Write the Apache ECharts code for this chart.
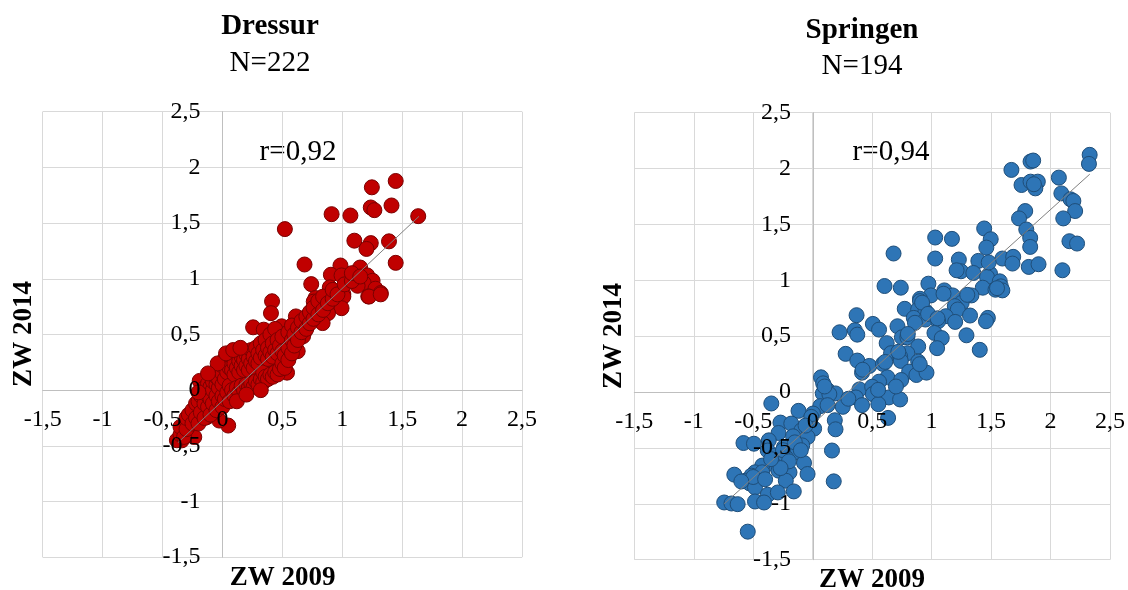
<!DOCTYPE html>
<html>
<head>
<meta charset="utf-8">
<script src="https://cdn.jsdelivr.net/npm/echarts@6/dist/echarts.min.js"></script>
<style>
html,body{margin:0;padding:0;background:#fff;}
#chart{width:1128px;height:590px;}
</style>
</head>
<body>
<div id="chart"></div>
<script>
// ---- Data ----
const titles = ['Dressur', 'Springen'];
const counts = ['N=222', 'N=194'];
const correlations = ['r=0,92', 'r=0,94'];
const xAxisName = 'ZW 2009';
const yAxisName = 'ZW 2014';
const axisMin = -1.5, axisMax = 2.5, axisStep = 0.5;

const dressurPoints = [
  // clearly visible points
  [1.446,1.878],[1.247,1.821],[1.411,1.658],[1.238,1.64],[1.268,1.616],[1.634,1.562],[0.911,1.58],[1.068,1.568],
  [0.521,1.446],[1.101,1.342],[1.238,1.32],[1.39,1.336],[1.202,1.268],[1.446,1.143],[0.685,1.128],[0.985,1.119],
  [1.149,1.101],[0.905,1.036],[0.994,1.03],[1.208,1.03],[1.253,0.982],[1.179,0.961],[0.741,0.952],[0.896,0.923],
  [1.128,0.937],[1.277,0.911],[1.321,0.872],[1.217,0.842],[1.009,0.863],[0.777,0.827],[0.866,0.821],[0.414,0.798],
  [1.223,0.84],[1.321,0.86],[1.009,0.84],[0.405,0.691],[0.762,0.795],[0.836,0.751],[0.896,0.766],[0.994,0.736],
  [0.881,0.691],[0.613,0.662],[0.836,0.602],[0.732,0.617],[0.256,0.564],[0.345,0.543],[0.494,0.573],[0.688,0.528],
  [0.673,0.484],[0.42,0.484],[0.554,0.424],[0.628,0.35],[0.539,0.157],[0.286,0.38],[0.435,0.365],[0.048,0.32],
  [0.196,0.335],[0.122,0.276],[0.018,0.172],[0.375,0.261],[0.494,0.246],[0.405,0.202],[0.226,0.202],[0.286,0.142],
  [0.196,0.098],[0.256,0.039],[0.107,0.083],[-0.071,0.083],[-0.146,0.024],[-0.19,0.083],[-0.012,-0.065],[-0.071,-0.125],
  [-0.19,-0.184],[0.048,-0.318],[-0.027,-0.273],[-0.131,-0.243],[-0.28,-0.332],[-0.235,-0.421],[-0.339,-0.451],
  // dense cluster around the origin
  [-0.38,-0.45],[-0.35,-0.40],[-0.35,-0.33],[-0.32,-0.42],[-0.30,-0.35],[-0.30,-0.25],[-0.28,-0.22],[-0.25,-0.30],
  [-0.25,-0.18],[-0.22,-0.25],[-0.22,-0.12],[-0.20,-0.30],[-0.20,-0.10],[-0.18,-0.20],[-0.18,-0.05],[-0.15,-0.25],
  [-0.15,-0.12],[-0.15,0.02],[-0.12,-0.15],[-0.12,-0.05],[-0.12,0.06],[-0.10,-0.22],[-0.10,-0.08],[-0.10,0.03],
  [-0.08,-0.12],[-0.08,0.00],[-0.08,0.08],[-0.05,-0.18],[-0.05,-0.05],[-0.05,0.05],[-0.05,0.12],[-0.03,-0.10],
  [-0.03,0.02],[-0.03,0.10],[0.00,-0.15],[0.00,-0.05],[0.00,0.05],[0.00,0.15],[0.00,0.22],
  [0.02,-0.08],[0.02,0.10],[0.02,0.28],[0.04,-0.02],[0.04,0.16],[0.04,0.25],[0.06,-0.10],[0.06,0.04],[0.06,0.20],
  [0.08,0.00],[0.08,0.18],[0.08,0.30],[0.10,-0.05],[0.10,0.14],[0.10,0.24],[0.12,0.02],[0.12,0.20],[0.12,0.33],
  [0.14,-0.02],[0.14,0.16],[0.14,0.26],[0.16,0.04],[0.16,0.22],[0.16,0.30],[0.18,0.00],[0.18,0.18],[0.18,0.27],
  [0.20,0.05],[0.20,0.22],[0.20,0.32],[0.22,0.02],[0.22,0.18],[0.22,0.28],[0.24,0.06],[0.24,0.24],[0.24,0.36],
  [0.26,0.03],[0.26,0.20],[0.26,0.30],[0.28,0.08],[0.28,0.26],[0.28,0.38],[0.30,0.05],[0.30,0.24],[0.30,0.33],
  [0.32,0.10],[0.32,0.29],[0.32,0.42],[0.34,0.07],[0.34,0.16],[0.34,0.36],[0.36,0.12],[0.36,0.31],[0.36,0.45],
  [0.38,0.10],[0.38,0.28],[0.38,0.38],[0.40,0.14],[0.40,0.34],[0.40,0.50],[0.42,0.12],[0.42,0.30],[0.42,0.42],
  [0.44,0.16],[0.44,0.36],[0.44,0.55],[0.46,0.14],[0.46,0.33],[0.46,0.45],
  [0.48,0.19],[0.48,0.40],[0.50,0.24],[0.50,0.35],[0.50,0.48],[0.52,0.20],[0.52,0.31],[0.55,0.27],[0.55,0.38],
  [0.55,0.52],[0.58,0.33],[0.58,0.45],[0.58,0.58],[0.60,0.40],[0.60,0.50],[0.63,0.45],[0.63,0.56],[0.66,0.52],
  [0.66,0.62],[0.70,0.55],[0.70,0.66],[0.73,0.60],[0.73,0.70],[0.76,0.64],[0.76,0.74],[0.80,0.68],[0.80,0.80],
  [0.84,0.72],[0.84,0.84],[0.88,0.78],[0.92,0.82],[0.92,0.90],[0.96,0.86],[1.02,0.95],[1.08,0.98],[1.08,1.05],
  [1.15,1.02],
  [-0.04,0.24],[0.03,0.33],[-0.12,0.15],[0.09,0.36],[0.15,0.38],[0.12,-0.10],[0.20,-0.04],[0.32,0.00],[-0.20,-0.02]
];

const springenPoints = [
  [2.329,2.123],[2.323,2.042],[1.832,2.063],[1.854,2.072],[1.671,1.988],[2.07,1.919],[1.756,1.853],[1.832,1.883],
  [1.893,1.883],[1.872,1.823],[2.091,1.778],[2.168,1.725],[2.192,1.71],[2.207,1.62],[1.787,1.62],[1.735,1.554],
  [2.107,1.554],[1.796,1.455],[1.442,1.464],[1.829,1.38],[1.497,1.368],[1.03,1.383],[1.171,1.371],[2.159,1.35],
  [2.223,1.329],[1.829,1.299],[1.46,1.293],[0.68,1.24],[1.03,1.195],[1.229,1.186],[1.393,1.174],[1.595,1.195],
  [1.686,1.21],[1.68,1.15],[1.817,1.12],[1.899,1.144],[2.1,1.09],[1.247,1.081],[1.351,1.066],[1.491,1.06],
  [1.466,1.03],[1.573,0.991],[0.973,0.97],[0.604,0.949],[0.741,0.934],[1.43,0.934],[1.582,0.946],[1.537,0.916],
  [1.595,0.91],[1.107,0.91],[0.994,0.865],[0.902,0.835],[1.177,0.865],[1.335,0.865],
  [0.902,0.814],[1.253,0.799],[1.195,0.769],[1.22,0.739],[0.369,0.688],[0.774,0.745],[0.887,0.739],[0.948,0.724],
  [1.323,0.685],[1.119,0.679],[0.85,0.664],[0.948,0.649],[1.055,0.634],[1.198,0.628],[1.473,0.664],[1.457,0.634],
  [0.506,0.61],[0.558,0.559],[0.713,0.589],[0.226,0.535],[0.354,0.553],[0.375,0.514],[1.024,0.529],[1.293,0.508],
  [0.75,0.49],[0.796,0.49],[1.085,0.483],[0.622,0.438],[0.887,0.408],[1.046,0.393],[1.405,0.378],[0.277,0.342],
  [0.659,0.348],[0.796,0.348],[0.735,0.318],[0.375,0.282],[0.887,0.273],[0.741,0.279],[0.476,0.234],[0.591,0.252],
  [0.415,0.174],[0.811,0.183],[0.872,0.153],[0.957,0.174],[0.628,0.132],[0.744,0.108],[0.07,0.132],[0.088,0.078],
  [0.558,0.093],[0.393,0.024],[0.5,0.048],[0.125,0.018],[0.192,-0.012],[0.085,-0.012],[0.14,-0.018],[0.506,-0.018],
  [0.363,-0.048],[0.64,-0.048],[0.735,-0.066],[0.415,-0.117],[0.552,-0.108],[0.064,-0.126],[0.253,-0.132],[0.125,-0.117],
  [-0.348,-0.102],[-0.119,-0.168],[0.003,-0.192],[-0.012,-0.222],[0.634,-0.231],[0.186,-0.252],[-0.271,-0.273],[-0.18,-0.282],
  [0.012,-0.327],[0.192,-0.333],[-0.095,-0.342],[-0.287,-0.366],[-0.165,-0.396],[-0.043,-0.402],[-0.369,-0.432],[-0.582,-0.456],
  [-0.494,-0.462],[-0.088,-0.477],[-0.241,-0.492],[-0.378,-0.523],[-0.149,-0.538],[-0.317,-0.568],[-0.226,-0.583],[-0.271,-0.613],
  [0.162,-0.523],[-0.073,-0.634],[-0.332,-0.643],[-0.424,-0.658],[-0.485,-0.718],[-0.659,-0.739],[-0.515,-0.748],[-0.424,-0.718],
  [-0.287,-0.703],[-0.195,-0.718],[-0.043,-0.733],[-0.567,-0.793],[-0.53,-0.817],[-0.485,-0.853],[-0.226,-0.793],[0.177,-0.799],
  [-0.378,-0.919],[-0.293,-0.898],[-0.159,-0.889],[-0.744,-0.988],[-0.683,-0.997],[-0.631,-1.003],[-0.485,-0.979],[-0.409,-0.988],
  [-0.546,-1.249],
  // partly hidden overlapping points
  [0.92,0.80],[1.10,0.88],[0.97,0.70],[0.86,0.62],[0.72,0.36],[0.90,0.25],[0.55,0.02],[0.10,0.05],[-0.25,-0.52],
  [-0.20,-0.62],[-0.50,-0.76],[-0.27,-0.68],[-0.15,-0.45],[-0.35,-0.60],[1.55,0.93],[1.86,1.86],[1.30,0.87],
  [0.80,0.52],[1.05,0.66],[-0.06,-0.30],[0.42,0.20],[0.61,0.27],[1.21,1.09],[-0.40,-0.78],[-0.60,-0.80],
  [0.30,-0.06],[-0.10,-0.52],[1.48,1.16],[0.70,0.05]
];

const dressurTrend = [[-0.37, -0.47], [1.64, 1.56]];
const springenTrend = [[-0.744, -1.0], [2.33, 1.95]];

// ---- Chart ----
const FONT = "'Liberation Serif', 'Times New Roman', serif";
const fmt = v => String(v).replace('.', ',');

const grids = [
  { left: 42.7, top: 111.7, width: 479.3, height: 445.5 },
  { left: 634.3, top: 112.7, width: 476.4, height: 447 }
];

// place each axis on the other axis' zero value
function zeroOffsetX(g) { return -g.height * (0 - axisMin) / (axisMax - axisMin); }
function zeroOffsetY(g) { return -g.width * (0 - axisMin) / (axisMax - axisMin); }

const labelStyle = { fontFamily: FONT, fontSize: 24, color: '#000', formatter: fmt, hideOverlap: false };

// main axes: zero lines + grid, no labels (drawn below the markers)
function xAxisMain(i) {
  return {
    gridIndex: i, type: 'value', min: axisMin, max: axisMax, interval: axisStep,
    position: 'bottom', offset: zeroOffsetX(grids[i]), z: 0,
    axisLine: { onZero: false, lineStyle: { color: '#bfbfbf', width: 1 } },
    axisTick: { show: false },
    splitLine: { show: true, lineStyle: { color: '#d9d9d9', width: 1 } },
    axisLabel: { show: false }
  };
}
function yAxisMain(i) {
  return {
    gridIndex: i, type: 'value', min: axisMin, max: axisMax, interval: axisStep,
    position: 'left', offset: zeroOffsetY(grids[i]), z: 0,
    axisLine: { onZero: false, lineStyle: { color: '#bfbfbf', width: 1 } },
    axisTick: { show: false },
    splitLine: { show: true, lineStyle: { color: '#d9d9d9', width: 1 } },
    axisLabel: { show: false }
  };
}
// label axes: tick labels drawn above the markers
function xAxisLabels(i) {
  return {
    gridIndex: i, type: 'value', min: axisMin, max: axisMax, interval: axisStep,
    position: 'bottom', offset: zeroOffsetX(grids[i]), z: 10,
    axisLine: { show: false, onZero: false }, axisTick: { show: false }, splitLine: { show: false },
    axisLabel: Object.assign({ margin: 18 }, labelStyle)
  };
}
function yAxisLabels(i) {
  return {
    gridIndex: i, type: 'value', min: axisMin, max: axisMax, interval: axisStep,
    position: 'left', offset: zeroOffsetY(grids[i]), z: 10,
    axisLine: { show: false, onZero: false }, axisTick: { show: false }, splitLine: { show: false },
    axisLabel: Object.assign({ margin: 22 }, labelStyle)
  };
}

const titleX = [270, 862];
const titleY = [27, 31];
const nY = [63, 66];
const rPos = [[298, 152], [891, 152]];
const xNamePos = [[282.7, 578], [872, 580]];
const yNamePos = [[24, 334], [614, 336]];

const graphics = [];
for (let i = 0; i < 2; i++) {
  const cx = titleX[i];
  graphics.push({ type: 'text', x: cx, y: titleY[i], style: { text: titles[i], font: 'bold 29px ' + FONT, fill: '#000', textAlign: 'center', textVerticalAlign: 'middle' } });
  graphics.push({ type: 'text', x: cx, y: nY[i], style: { text: counts[i], font: '29px ' + FONT, fill: '#000', textAlign: 'center', textVerticalAlign: 'middle' } });
  graphics.push({ type: 'text', x: rPos[i][0], y: rPos[i][1], style: { text: correlations[i], font: '29px ' + FONT, fill: '#000', textAlign: 'center', textVerticalAlign: 'middle' } });
  graphics.push({ type: 'text', x: xNamePos[i][0], y: xNamePos[i][1], style: { text: xAxisName, font: 'bold 27px ' + FONT, fill: '#000', textAlign: 'center', textVerticalAlign: 'middle' } });
  graphics.push({ type: 'text', x: yNamePos[i][0], y: yNamePos[i][1], rotation: Math.PI / 2, style: { text: yAxisName, font: 'bold 27px ' + FONT, fill: '#000', textAlign: 'center', textVerticalAlign: 'middle' } });
}

const chart = echarts.init(document.getElementById('chart'), null, { renderer: 'canvas' });
chart.setOption({
  animation: false,
  backgroundColor: '#ffffff',
  grid: grids,
  xAxis: [xAxisMain(0), xAxisMain(1), xAxisLabels(0), xAxisLabels(1)],
  yAxis: [yAxisMain(0), yAxisMain(1), yAxisLabels(0), yAxisLabels(1)],
  graphic: graphics,
  series: [
    {
      type: 'scatter', xAxisIndex: 0, yAxisIndex: 0, data: dressurPoints, symbolSize: 15, z: 2,
      itemStyle: { color: '#C00000', borderColor: '#7A0000', borderWidth: 1, opacity: 1 }
    },
    {
      type: 'line', xAxisIndex: 0, yAxisIndex: 0, data: dressurTrend, showSymbol: false, z: 3,
      lineStyle: { color: '#808080', width: 1 }
    },
    {
      type: 'scatter', xAxisIndex: 1, yAxisIndex: 1, data: springenPoints, symbolSize: 15, z: 2,
      itemStyle: { color: '#2E75B6', borderColor: '#1F4E79', borderWidth: 1, opacity: 1 }
    },
    {
      type: 'line', xAxisIndex: 1, yAxisIndex: 1, data: springenTrend, showSymbol: false, z: 3,
      lineStyle: { color: '#808080', width: 1 }
    }
  ]
});
</script>
</body>
</html>
